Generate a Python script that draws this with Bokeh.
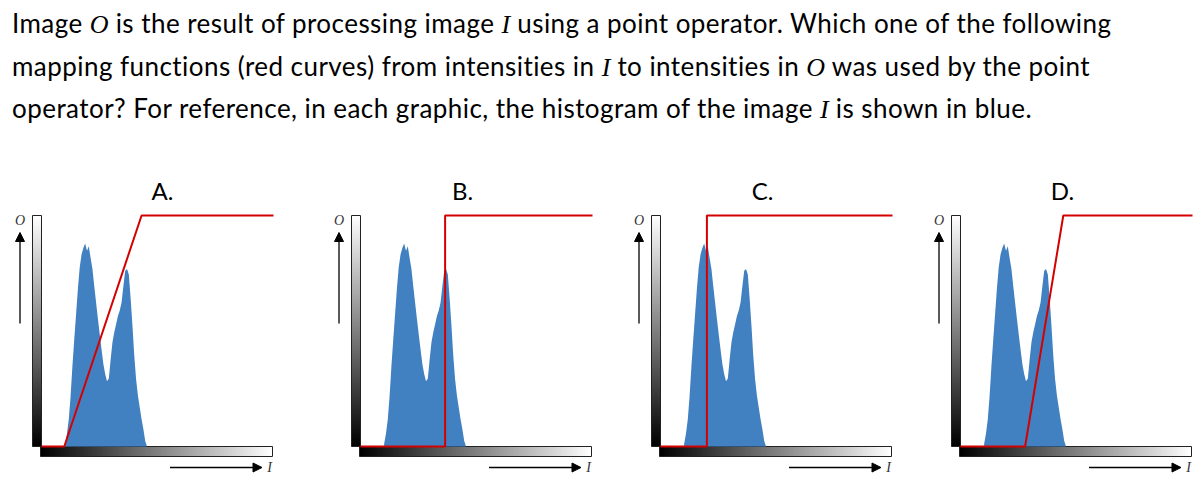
import numpy as np
from bokeh.plotting import figure
from bokeh.models import Div, Range1d, Arrow, NormalHead
from bokeh.layouts import column, row
from bokeh.embed import file_html
from bokeh.resources import INLINE
from bokeh.core.properties import value
from bokeh.palettes import Greys256

# ---------------- data ----------------
question_html = (
    'Image <i class="m">O</i> is the result of processing image <i class="m">I</i> using a point operator. Which one of the following<br>'
    'mapping functions (red curves) from intensities in <i class="m">I</i> to intensities in <i class="m">O</i> was used by the point<br>'
    'operator? For reference, in each graphic, the histogram of the image <i class="m">I</i> is shown in blue.'
)
panel_labels = ["A.", "B.", "C.", "D."]

# histogram of image I (bin centres in intensity, heights in O-units)
hist_intensity = list(range(26, 118, 2))
hist_counts = [3, 14, 30, 56, 89, 118, 146, 174, 198, 212,
               219, 224, 216, 221, 208, 196, 177, 159, 141, 124,
               107, 91, 80, 72, 75, 96, 115, 126, 135, 144,
               150, 159, 177, 194, 196, 190, 163, 133, 100, 74,
               56, 43, 30, 19, 6, 0]

# mapping functions (I -> O)
curve_A_x = [0, 25, 110, 255]
curve_A_y = [0, 0, 255, 255]
curve_B_x = [0, 93, 93, 255]
curve_B_y = [0, 0, 255, 255]
curve_C_x = [0, 51, 51, 255]
curve_C_y = [0, 0, 255, 255]
curve_D_x = [0, 71, 113, 255]
curve_D_y = [0, 0, 255, 255]
curves = [(curve_A_x, curve_A_y), (curve_B_x, curve_B_y),
          (curve_C_x, curve_C_y), (curve_D_x, curve_D_y)]

intensity_ramp = np.arange(256)

# ---------------- layout constants (pixels) ----------------
PANEL_H = 310
origins = [41, 60, 60, 60]          # x pixel of I=0 inside each panel
widths = [300, 300, 300, 304]
ORIGIN_FROM_BOTTOM = 34             # y pixel of O=0 from panel bottom
KX = 255 / 232.0
KY = 255 / 231.0
TITLE_X = 162

HIST_COLOR = "#4180c1"
RED = "#d40000"

header = Div(
    text=('<div style="font-family: Lato, sans-serif; font-size: 26px; letter-spacing: 0.45px; '
          'line-height: 40.5px; color:#000; padding: 3px 0 0 12px; white-space: nowrap;">'
          '<style>.m{font-family:\'Liberation Serif\', serif; font-style:italic; letter-spacing:0;}</style>'
          + question_html + '</div>'),
    width=1204, height=170, margin=(0, 0, 0, 0),
)


def make_panel(i):
    W = widths[i]
    o = origins[i]
    xr = Range1d(-o * KX, (W - o) * KX)
    yr = Range1d(-ORIGIN_FROM_BOTTOM * KY, (PANEL_H - ORIGIN_FROM_BOTTOM) * KY)
    p = figure(width=W, height=PANEL_H, x_range=xr, y_range=yr,
               x_axis_type=None, y_axis_type=None, toolbar_location=None,
               output_backend="svg", min_border=0, outline_line_color=None,
               background_fill_color="white", border_fill_color="white")
    p.grid.visible = False

    def px(dx):
        return dx * KX

    def py(dy):
        return dy * KY

    # gradient bars
    p.image(image=[intensity_ramp.reshape(1, 256)], x=px(-1), y=py(-10),
            dw=px(232), dh=py(10), palette=Greys256)
    p.quad(left=[px(-1)], right=[px(231)], bottom=[py(-10)], top=[0],
           fill_color=None, line_color="#222222", line_width=1)
    p.image(image=[intensity_ramp.reshape(256, 1)], x=px(-9), y=0,
            dw=px(9), dh=py(231), palette=Greys256)
    p.quad(left=[px(-9)], right=[0], bottom=[0], top=[py(231)],
           fill_color=None, line_color="#222222", line_width=1)

    # histogram
    p.varea(x=hist_intensity, y1=[0] * len(hist_intensity), y2=hist_counts,
            fill_color=HIST_COLOR)

    # mapping curve
    cx, cy = curves[i]
    p.line(cx, cy, line_color=RED, line_width=2)

    # arrows and axis letters
    p.add_layout(Arrow(end=NormalHead(size=9, fill_color="black", line_color="black"),
                       x_start=px(-21.5), y_start=py(446 - 323),
                       x_end=px(-21.5), y_end=py(446 - 232),
                       line_color="black", line_width=1.3))
    p.add_layout(Arrow(end=NormalHead(size=9, fill_color="black", line_color="black"),
                       x_start=px(128.5), y_start=py(446 - 467),
                       x_end=px(220.5), y_end=py(446 - 467),
                       line_color="black", line_width=1.3))
    p.text(x=[px(-21.5)], y=[py(446 - 220)], text=["O"],
           text_font=value("Liberation Serif"), text_font_style="italic",
           text_font_size="14px", text_align="center", text_baseline="middle",
           text_color="#333333")
    p.text(x=[px(228)], y=[py(446 - 467)], text=["I"],
           text_font=value("Liberation Serif"), text_font_style="italic",
           text_font_size="14px", text_align="center", text_baseline="middle",
           text_color="#333333")

    # panel title
    p.text(x=[px(TITLE_X - o)], y=[py(446 - 190)], text=[panel_labels[i]],
           text_font=value("Lato"), text_font_size="24px",
           text_align="center", text_baseline="middle", text_color="black")
    return p


panels = [make_panel(i) for i in range(4)]
layout = column(header, row(*panels, spacing=0), spacing=0)

open("out.html", "w").write(file_html(layout, INLINE))
